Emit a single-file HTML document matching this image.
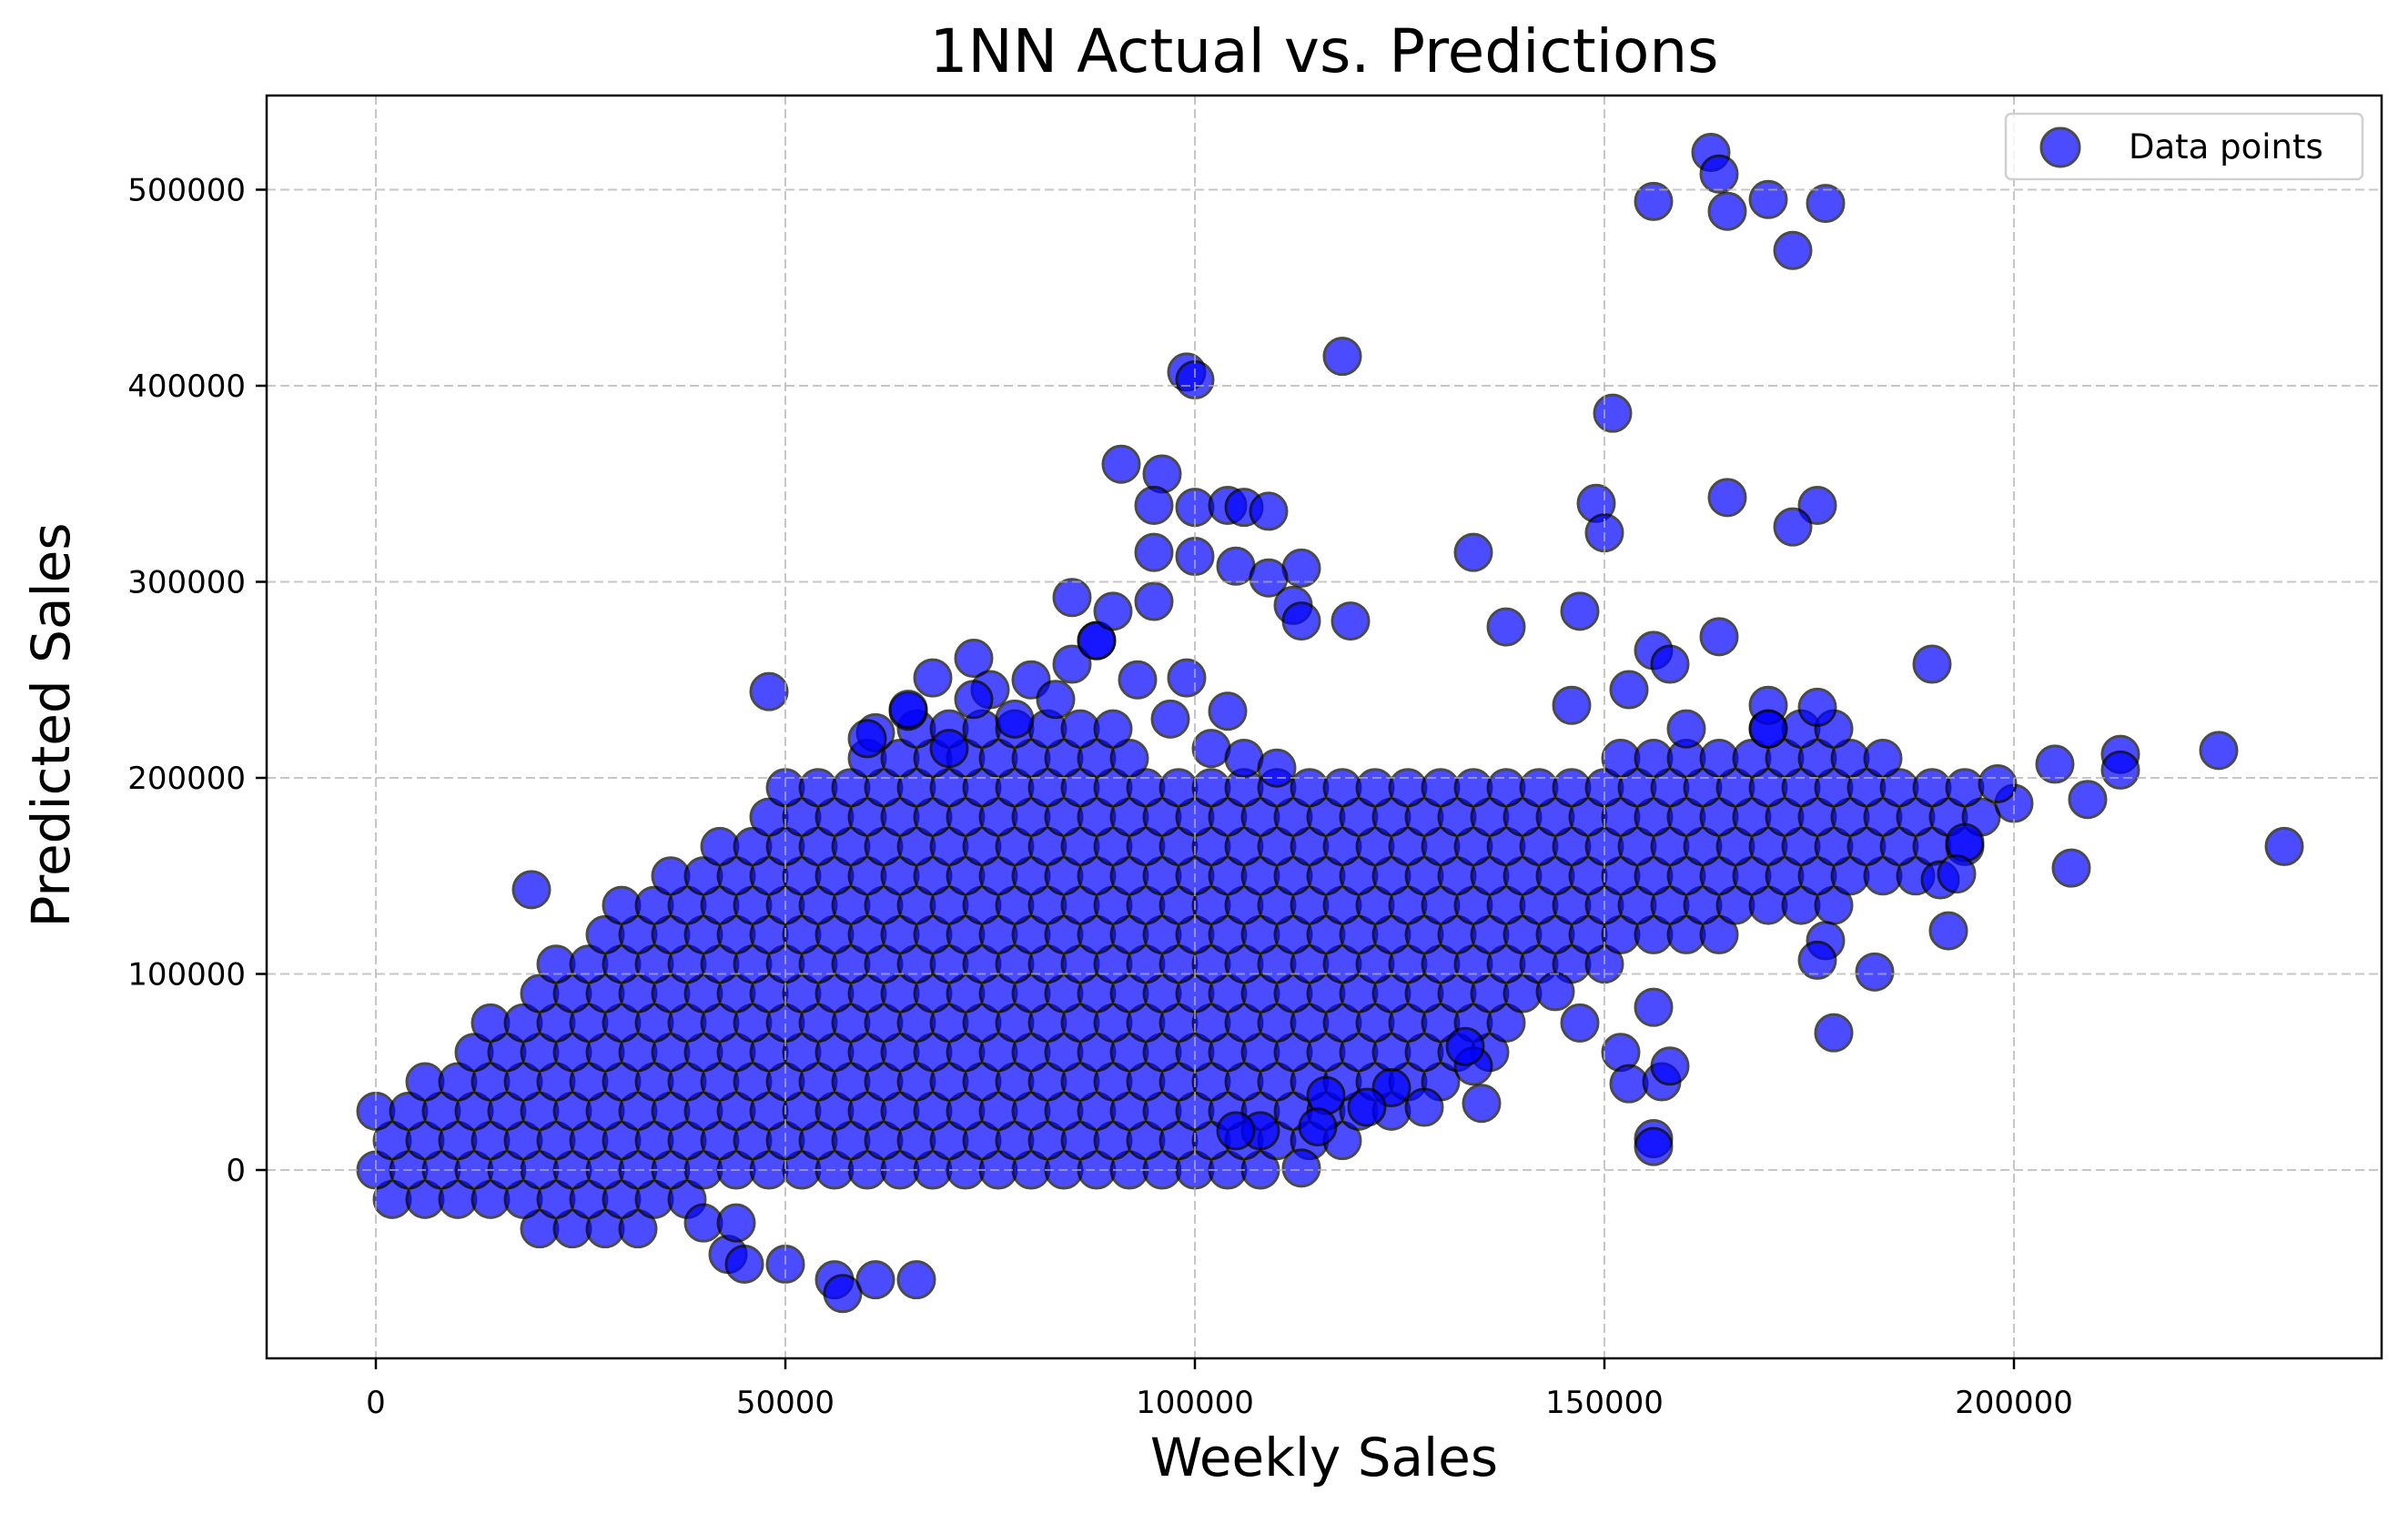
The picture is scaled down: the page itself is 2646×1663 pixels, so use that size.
<!DOCTYPE html>
<html><head><meta charset="utf-8"><style>
html,body{margin:0;padding:0;background:#fff;}
svg{display:block;font-family:"DejaVu Sans","Liberation Sans",sans-serif;}
</style></head><body>
<svg id="chart" width="2646" height="1663" viewBox="0 0 2646 1663" xmlns="http://www.w3.org/2000/svg">
<rect x="0" y="0" width="2646" height="1663" fill="#fff"/>
<g id="points"></g>
<g id="grid"></g>
<rect x="293" y="105" width="2324" height="1388" fill="none" stroke="#000" stroke-width="2.5"/>
<g id="ticks"></g>
<text x="1455" y="79" font-size="66" text-anchor="middle">1NN Actual vs. Predictions</text>
<text x="1455" y="1622" font-size="58" text-anchor="middle">Weekly Sales</text>
<text transform="translate(76,797) rotate(-90)" font-size="58" text-anchor="middle">Predicted Sales</text>
<g>
<rect x="2204" y="125" width="392" height="72" rx="6" fill="#fff" fill-opacity="0.8" stroke="#d0d0d0" stroke-width="2.5"/>
<circle cx="2264" cy="162" r="21" fill="#0000ff" stroke="#000" stroke-width="3" opacity="0.7"/>
<text x="2339" y="174" font-size="37">Data points</text>
</g>
</svg>
<script>
// values in thousands
const xTicks = [0, 50000, 100000, 150000, 200000];
const yTicks = [0, 100000, 200000, 300000, 400000, 500000];
const rowPredicted = [-30,-15,0,15,30,45,60,75,90,105,120,135,150,165,180,195,210,225];
const rowActual = [
[20,24,28,32],
[2,6,10,14,18,22,26,30,34,38],
[0,4,8,12,16,20,24,28,32,36,40,44,48,52,56,60,64,68,72,76,80,84,88,92,96,100,104,108],
[2,6,10,14,18,22,26,30,34,38,42,46,50,54,58,62,66,70,74,78,82,86,90,94,98,102,106,110,114,118],
[0,4,8,12,16,20,24,28,32,36,40,44,48,52,56,60,64,68,72,76,80,84,88,92,96,100,104,108,112,116,120,124],
[6,10,14,18,22,26,30,34,38,42,46,50,54,58,62,66,70,74,78,82,86,90,94,98,102,106,110,114,118,122,126,130],
[12,16,20,24,28,32,36,40,44,48,52,56,60,64,68,72,76,80,84,88,92,96,100,104,108,112,116,120,124,128,132,136],
[14,18,22,26,30,34,38,42,46,50,54,58,62,66,70,74,78,82,86,90,94,98,102,106,110,114,118,122,126,130,134,138],
[20,24,28,32,36,40,44,48,52,56,60,64,68,72,76,80,84,88,92,96,100,104,108,112,116,120,124,128,132,136,140],
[22,26,30,34,38,42,46,50,54,58,62,66,70,74,78,82,86,90,94,98,102,106,110,114,118,122,126,130,134,138,142,146,150],
[28,32,36,40,44,48,52,56,60,64,68,72,76,80,84,88,92,96,100,104,108,112,116,120,124,128,132,136,140,144,148,152,156,160,164],
[30,34,38,42,46,50,54,58,62,66,70,74,78,82,86,90,94,98,102,106,110,114,118,122,126,130,134,138,142,146,150,154,158,162,166,170,174,178],
[36,40,44,48,52,56,60,64,68,72,76,80,84,88,92,96,100,104,108,112,116,120,124,128,132,136,140,144,148,152,156,160,164,168,172,176,180,184,188],
[42,46,50,54,58,62,66,70,74,78,82,86,90,94,98,102,106,110,114,118,122,126,130,134,138,142,146,150,154,158,162,166,170,174,178,182,186,190,194],
[48,52,56,60,64,68,72,76,80,84,88,92,96,100,104,108,112,116,120,124,128,132,136,140,144,148,152,156,160,164,168,172,176,180,184,188,192,196],
[50,54,58,62,66,70,74,78,82,86,90,94,98,102,106,110,114,118,122,126,130,134,138,142,146,150,154,158,162,166,170,174,178,182,186,190,194],
[60,64,68,72,76,80,84,88,92,152,156,160,164,168,172,176,180,184],
[66,70,74,78,82,86,90,170,174,178]
];
const outlierActual = [163,164,165,156,170,177,173,118,99,100,151,91,96,95,100,104,106,109,149,150,165,176,173,134,95,100,105,113,112,113,119,95,109,138,147,164,156,158,190,48,99,104,88,85,205,225,213,213,200,209,198,233,207,194,192,178,183,177,176,156,152,153,156,156,157,158,134,133,113,116,56,57,61,66,19,61,65,73,68,146,170,160,170,153,176,144,147,124,121,128,135,108,105,115,43,45,50,40,44,191,193,60,65,70,75,80,85,88,90,78,73,83,93,97,102,106,110];
const outlierPredicted = [519,508,489,494,495,493,469,415,407,403,386,360,355,339,338,339,338,336,340,325,343,339,328,315,315,313,308,307,288,280,280,290,302,277,285,272,265,258,258,244,251,234,270,292,207,214,212,204,187,189,197,165,154,167,122,70,101,117,107,83,60,44,16,12,45,53,53,63,1,38,-56,-63,-56,-56,143,223,234,261,251,237,237,225,225,245,236,91,75,42,32,32,34,20,20,22,-43,-48,-48,-27,-27,148,151,220,235,215,245,250,258,270,285,230,240,240,250,230,215,210,205];

const X0 = 413, XK = 9.0;      // px per thousand
const Y0 = 1286, YK = 2.155;
function xs(v){ return X0 + v * XK; }
function ys(v){ return Y0 - v * YK; }
const NS = "http://www.w3.org/2000/svg";
const pts = document.getElementById('points');
function addPoint(ax, py){
  const c = document.createElementNS(NS,'circle');
  
  
  c.setAttribute('cx', xs(ax)); c.setAttribute('cy', ys(py)); c.setAttribute('r', 20);
  c.setAttribute('fill', '#0000ff'); c.setAttribute('stroke', '#000');
  c.setAttribute('stroke-width', 3); c.setAttribute('opacity', 0.7);
  pts.appendChild(c);
}
rowPredicted.forEach((p, i) => rowActual[i].forEach(a => addPoint(a, p)));
outlierActual.forEach((a, i) => addPoint(a, outlierPredicted[i]));

const grid = document.getElementById('grid');
const ticks = document.getElementById('ticks');
function line(parent, x1, y1, x2, y2, stroke, w, dash){
  const l = document.createElementNS(NS,'line');
  l.setAttribute('x1',x1); l.setAttribute('y1',y1); l.setAttribute('x2',x2); l.setAttribute('y2',y2);
  l.setAttribute('stroke',stroke); l.setAttribute('stroke-width',w);
  if (dash) l.setAttribute('stroke-dasharray', dash);
  parent.appendChild(l); return l;
}
function label(x, y, t, anchor){
  const e = document.createElementNS(NS,'text');
  e.setAttribute('x',x); e.setAttribute('y',y); e.setAttribute('font-size',34);
  e.setAttribute('text-anchor',anchor); e.textContent = t;
  ticks.appendChild(e); return e;
}
xTicks.forEach(v => {
  const x = xs(v/1000);
  const g = line(grid, x, 105, x, 1492, '#b0b0b0', 2, '10,5');
  g.setAttribute('opacity', 0.7);
  
  
  const t = line(ticks, x, 1493, x, 1505, '#000', 2.5);
  
  
  const l = label(x, 1553, String(v), 'middle');
  
  
});
yTicks.forEach(v => {
  const y = ys(v/1000);
  const g = line(grid, 293, y, 2617, y, '#b0b0b0', 2, '10,5');
  g.setAttribute('opacity', 0.7);
  
  
  const t = line(ticks, 281, y, 293, y, '#000', 2.5);
  
  
  const l = label(270, y + 12, String(v), 'end');
  
  
});
</script>
</body></html>
